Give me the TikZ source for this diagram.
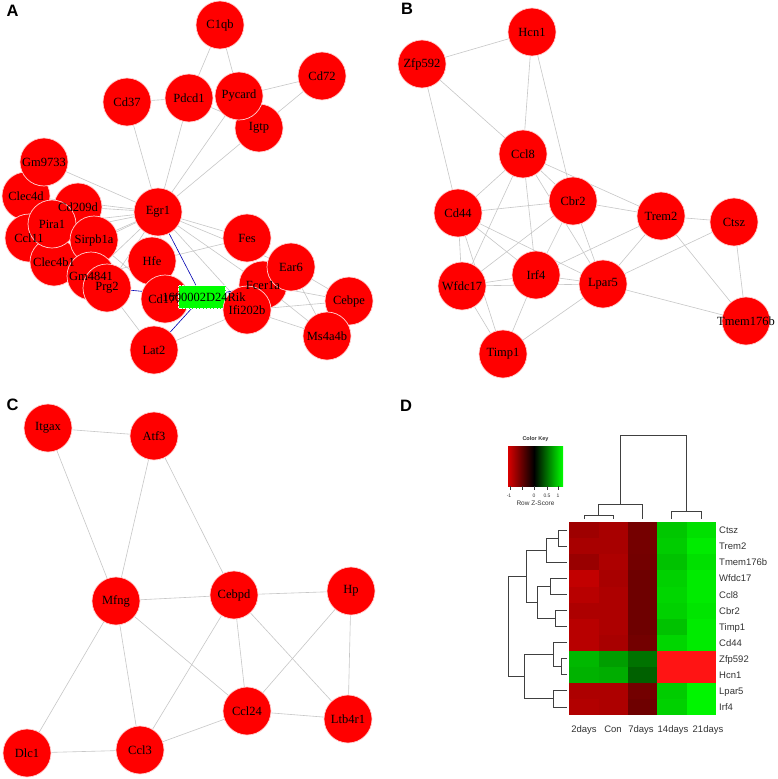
\documentclass[tikz,border=0pt]{standalone}
\usepackage{fontspec}
\setmainfont{Liberation Serif}
\setsansfont{Liberation Sans}
\usetikzlibrary{positioning}
\usetikzlibrary{backgrounds}
\pgfdeclarelayer{foreground}
\pgfsetlayers{background,main,foreground}

% one gene of a network: circle, with its name drawn above all circles
\newcommand{\gene}[3]{\node[genenode] (#1) at (#2) {};
    \begin{pgfonlayer}{foreground}\node[genetext] (#1name) at (#1.center) {#3};\end{pgfonlayer}}

\begin{document}
\begin{tikzpicture}[x=1pt, y=-1pt,
            genenode/.style={circle, fill=red, draw=red!18, line width=0.7pt, minimum size=48pt, inner sep=0pt},
            genetext/.style={font=\fontsize{12.5}{13}\selectfont, text=black, inner sep=0pt},
            lncnode/.style={rectangle, fill=green, draw=white, densely dotted, line width=0.4pt, minimum width=47pt, minimum height=23pt, inner sep=0pt},
            genelink/.style={draw=black!22, line width=0.6pt},
            lnclink/.style={draw=blue!70!black, line width=0.6pt},
            panellabel/.style={font=\sffamily\bfseries\fontsize{16.5}{17}\selectfont, inner sep=0pt},
            rowname/.style={anchor=base west, font=\sffamily\fontsize{9.5}{10}\selectfont, text=black!80, inner sep=0pt},
            colname/.style={anchor=base, font=\sffamily\fontsize{9.5}{10}\selectfont, text=black!80, inner sep=0pt},
            keytext/.style={font=\sffamily\fontsize{5}{5}\selectfont, text=black!80, inner sep=0pt},
            dendro/.style={draw=black!75, line width=0.8pt},
            ]
            \useasboundingbox (0,0) rectangle (778,779);

            % panel labels
            \node[panellabel] (labA) at (12.5,10.5) {A};
            \node[panellabel] (labB) at (407,9) {B};
            \node[panellabel] (labC) at (12.5,405) {C};
            \node[panellabel] (labD) at (406,406) {D};

            % ---------- A ----------
            \gene{C1qb}{220,25}{C1qb}
            \gene{Cd72}{322,76}{Cd72}
            \gene{Cd37}{127,102}{Cd37}
            \gene{Pdcd1}{189,98}{Pdcd1}
            \gene{Igtp}{259,128}{Igtp}
            \gene{Pycard}{239,96}{Pycard}
            \gene{Clec4d}{26,196}{Clec4d}
            \gene{Gm9733}{44,162}{Gm9733}
            \gene{Cd209d}{78,207}{Cd209d}
            \gene{Ccl11}{29,238}{Ccl11}
            \gene{Clec4b1}{54,262}{Clec4b1}
            \gene{Pira1}{52,224}{Pira1}
            \gene{Sirpb1a}{94,240}{Sirpb1a}
            \gene{Gm4841}{91,276}{Gm4841}
            \gene{Prg2}{107,288}{Prg2}
            \gene{Hfe}{152,261}{Hfe}
            \gene{Egr1}{158,212}{Egr1}
            \node[genenode, label={[genetext]center:Cd177}] (Cd177) at (165,299) {};
            \gene{Lat2}{154,350}{Lat2}
            \gene{Fes}{247,238}{Fes}
            \gene{Fcer1a}{263,285}{Fcer1a}
            \gene{Ear6}{291,267}{Ear6}
            \gene{Cebpe}{349,301}{Cebpe}
            \gene{Ms4a4b}{327,336}{Ms4a4b}
            \node[lncnode] (rik) at (202,297) {};
            \gene{Ifi202b}{247,310}{Ifi202b}
            \begin{pgfonlayer}{foreground}
                \node[genetext] (rikname) at (204,297) {1600002D24Rik};
            \end{pgfonlayer}

            % ---------- B ----------
            \gene{Hcn1}{532,32}{Hcn1}
            \gene{Zfp592}{422,64}{Zfp592}
            \gene{Ccl8}{523,154}{Ccl8}
            \gene{Cbr2}{573,201}{Cbr2}
            \gene{Cd44}{458,213}{Cd44}
            \gene{Trem2}{661,216}{Trem2}
            \gene{Ctsz}{734,222}{Ctsz}
            \gene{Wfdc17}{462,286}{Wfdc17}
            \gene{Irf4}{536,275}{Irf4}
            \gene{Lpar5}{603,284}{Lpar5}
            \gene{Tmem176b}{746,321}{Tmem176b}
            \gene{Timp1}{503,354}{Timp1}

            % ---------- C ----------
            \gene{Itgax}{48,428}{Itgax}
            \gene{Atf3}{154,436}{Atf3}
            \gene{Mfng}{116,601}{Mfng}
            \gene{Cebpd}{234,595}{Cebpd}
            \gene{Hp}{351,591}{Hp}
            \gene{Ccl24}{247,711}{Ccl24}
            \gene{Ltb4r1}{348,719}{Ltb4r1}
            \gene{Dlc1}{27,753}{Dlc1}
            \gene{Ccl3}{140,750}{Ccl3}

            \begin{scope}[on background layer]
                \fill[white] (0,0) rectangle (778,779);
                % network A
                \foreach \a/\b in {C1qb/Pdcd1, C1qb/Pycard, Cd37/Pdcd1, Pycard/Cd72, Igtp/Cd72, Pdcd1/Igtp,
                    Cd37/Egr1, Pdcd1/Egr1, Pycard/Egr1, Igtp/Egr1, Gm9733/Egr1, Gm9733/Clec4d, Clec4d/Egr1,
                    Cd209d/Egr1, Pira1/Egr1, Ccl11/Egr1, Sirpb1a/Egr1, Clec4b1/Egr1, Gm4841/Egr1, Prg2/Egr1,
                    Hfe/Egr1, Egr1/Fes, Egr1/Ear6, Egr1/Fcer1a, Egr1/Ifi202b, Egr1/Cd177, Hfe/Fes,
                    Sirpb1a/Cd177, Gm4841/Hfe, Prg2/Lat2, Lat2/Ifi202b, Fcer1a/Cebpe, Ear6/Cebpe, Ear6/Ms4a4b,
                    Ifi202b/Cebpe, Ifi202b/Ms4a4b, Fcer1a/Ms4a4b}
                    \draw[genelink] (\a) -- (\b);
                \foreach \a in {Egr1, Prg2, Lat2, Fcer1a}
                    \draw[lnclink] (\a) -- (rik);
                % network B
                \foreach \a/\b in {Hcn1/Zfp592, Hcn1/Ccl8, Hcn1/Cbr2, Zfp592/Ccl8, Zfp592/Cd44, Ccl8/Cd44,
                    Ccl8/Cbr2, Ccl8/Trem2, Ccl8/Wfdc17, Ccl8/Irf4, Ccl8/Lpar5, Cd44/Cbr2, Cd44/Wfdc17,
                    Cd44/Timp1, Cd44/Irf4, Cd44/Lpar5, Cbr2/Trem2, Cbr2/Wfdc17, Cbr2/Irf4, Cbr2/Lpar5,
                    Trem2/Ctsz, Trem2/Irf4, Trem2/Lpar5, Trem2/Tmem176b, Ctsz/Lpar5, Ctsz/Tmem176b,
                    Wfdc17/Irf4, Wfdc17/Lpar5, Wfdc17/Timp1, Irf4/Lpar5, Irf4/Timp1, Lpar5/Timp1, Lpar5/Tmem176b}
                    \draw[genelink] (\a) -- (\b);
                % network C
                \foreach \a/\b in {Itgax/Atf3, Itgax/Mfng, Atf3/Mfng, Atf3/Cebpd, Mfng/Cebpd, Cebpd/Hp,
                    Mfng/Dlc1, Mfng/Ccl3, Mfng/Ccl24, Cebpd/Ccl3, Cebpd/Ccl24, Cebpd/Ltb4r1, Hp/Ccl24,
                    Hp/Ltb4r1, Ccl24/Ltb4r1, Ccl24/Ccl3, Dlc1/Ccl3}
                    \draw[genelink] (\a) -- (\b);
            \end{scope}

            % ---------- D ----------
            % colour key
            \shade[left color=red!85!black, right color=black] (508,446) rectangle (534,486);
            \shade[left color=black, right color=green] (534,446) rectangle (563,486);
            \foreach \t in {510,522,534,547,558}
                \draw[black!80, line width=0.5pt] (\t,486) -- (\t,490);
            \node[keytext, font=\sffamily\bfseries\fontsize{5.5}{6}\selectfont] (keytitle) at (535.5,439) {Color Key};
            \node[keytext] (km1) at (509,496) {-1};
            \node[keytext] (k0) at (534,496) {0};
            \node[keytext] (k05) at (547,496) {0.5};
            \node[keytext] (k1) at (558,496) {1};
            \node[keytext, font=\sffamily\fontsize{6.5}{7}\selectfont] (keyname) at (535.5,503) {Row Z-Score};

            % heat map cells
            \foreach \g/\ca/\cb/\cc/\cd/\ce [count=\i from 0] in {
                Ctsz/red!62!black/red!66!black/red!46!black/green!78!black/green!88!black,
                Trem2/red!66!black/red!66!black/red!46!black/green!80!black/green!92!black,
                Tmem176b/red!60!black/red!68!black/red!45!black/green!76!black/green!88!black,
                Wfdc17/red!76!black/red!66!black/red!43!black/green!82!black/green!92!black,
                Ccl8/red!72!black/red!68!black/red!43!black/green!84!black/green!92!black,
                Cbr2/red!68!black/red!68!black/red!43!black/green!82!black/green!90!black,
                Timp1/red!72!black/red!68!black/red!43!black/green!76!black/green!92!black,
                Cd44/red!72!black/red!66!black/red!45!black/green!84!black/green!92!black,
                Zfp592/green!72!black/green!62!black/green!45!black/red!92/red!92,
                Hcn1/green!70!black/green!68!black/green!38!black/red!92/red!92,
                Lpar5/red!68!black/red!68!black/red!45!black/green!80!black/green!96!black,
                Irf4/red!70!black/red!68!black/red!43!black/green!82!black/green!96!black} {
                \foreach \c [count=\j from 0] in {\ca,\cb,\cc,\cd,\ce}
                    \fill[\c] ({569.3+29.3*\j},{522.3+16.05*\i}) rectangle ++(29.4,16.1);
                \node[rowname] (row\g) at (719,{533.8+16.05*\i}) {\g};
            }

            % column dendrogram
            \draw[dendro] (584,519) -- (584,515) -- (613.3,515) -- (613.3,519);
            \draw[dendro] (598.7,515) -- (598.7,504) -- (642.3,504) -- (642.3,519);
            \draw[dendro] (671.3,519) -- (671.3,511) -- (701,511) -- (701,519);
            \draw[dendro] (620.5,504) -- (620.5,435) -- (686,435) -- (686,511);

            % row dendrogram
            \draw[dendro] (567,530.3) -- (558,530.3) -- (558,546.4) -- (567,546.4);
            \draw[dendro] (558,538.4) -- (546,538.4) -- (546,562.4) -- (567,562.4);
            \draw[dendro] (567,578.5) -- (550,578.5) -- (550,594.5) -- (567,594.5);
            \draw[dendro] (567,610.6) -- (555,610.6) -- (555,626.6) -- (567,626.6);
            \draw[dendro] (550,586.5) -- (537,586.5) -- (537,618.6) -- (555,618.6);
            \draw[dendro] (546,550.4) -- (526,550.4) -- (526,602.5) -- (537,602.5);
            \draw[dendro] (567,658.7) -- (561,658.7) -- (561,674.8) -- (567,674.8);
            \draw[dendro] (567,642.7) -- (553,642.7) -- (553,666.8) -- (561,666.8);
            \draw[dendro] (567,690.8) -- (553,690.8) -- (553,706.9) -- (567,706.9);
            \draw[dendro] (553,654.7) -- (524,654.7) -- (524,698.8) -- (553,698.8);
            \draw[dendro] (526,576.5) -- (508,576.5) -- (508,676.8) -- (524,676.8);

            % column names
            \node[colname] (c2d) at (584,732.5) {2days};
            \node[colname] (ccon) at (613,732.5) {Con};
            \node[colname] (c7d) at (641,732.5) {7days};
            \node[colname] (c14d) at (673,732.5) {14days};
            \node[colname] (c21d) at (708,732.5) {21days};
        \end{tikzpicture}
\end{document}
